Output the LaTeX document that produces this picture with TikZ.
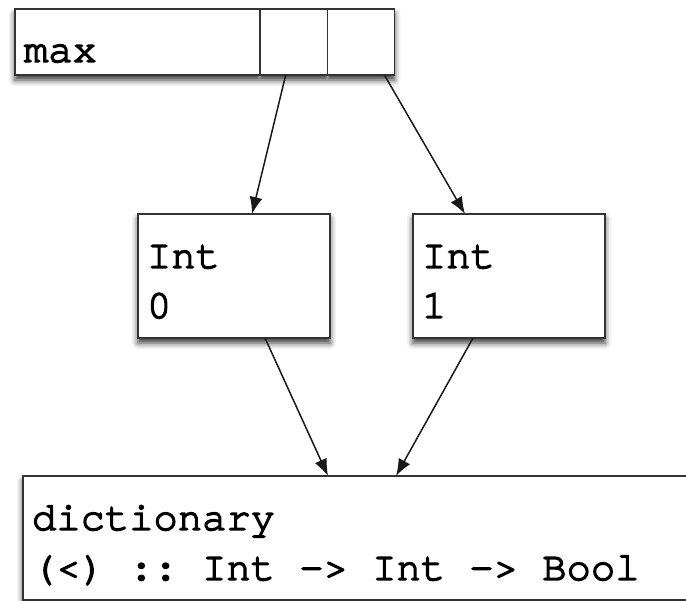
\documentclass[tikz,border=0pt]{standalone}
\usepackage{fontspec}
\newfontfamily\codefont[FakeBold=3.5]{TeX Gyre Cursor}
\protected\def\codesize{\fontsize{40.5}{50}\selectfont}
\protected\def\codespace{\spaceskip=24.3pt\relax\xspaceskip=24.3pt\relax}
\usepackage{tikz}
\usetikzlibrary{arrows.meta, positioning, shapes.multipart, shadows.blur}

\begin{document}
\begin{tikzpicture}[
    x=1pt, y=-1pt,
    box/.style={rectangle, draw=black!80, fill=white, line width=1.7pt,
                outer sep=0pt, inner xsep=9pt, inner ysep=0pt,
                font=\codefont\codesize,
                execute at begin node=\codespace,
                blur shadow={shadow xshift=0pt, shadow yshift=-5pt,
                             shadow blur radius=6pt, shadow opacity=80}},
    record/.style={box, rectangle split, rectangle split horizontal,
                   rectangle split parts=3},
    arrow/.style={-{Latex[length=17pt, width=13pt]}, line width=1.5pt, draw=black!90}
]
    \useasboundingbox (0,0) rectangle (686,601);
    \clip (0,0) rectangle (686,601);

    % function record with its two argument slots
    \node[record, anchor=north west] (maxfun) at (15,9)
        {\rule[-13pt]{0pt}{66pt}\makebox[226pt][l]{max}
         \nodepart{two}\hspace*{48pt}
         \nodepart{three}\hspace*{48pt}};

    % the two boxed values
    \node[box, anchor=north west, text width=174pt, text height=54pt, text depth=70pt]
        (intzero) at (138,214) {Int\\0};
    \node[box, right=83pt of intzero, text width=174pt, text height=54pt, text depth=70pt]
        (intone) {Int\\1};

    % shared dictionary
    \node[box, anchor=north west, text width=700pt, text height=54pt, text depth=70pt]
        (dict) at (23,476) {dictionary\\(<) :: Int -> Int -> Bool};

    \draw[arrow] ([xshift=-8pt]maxfun.two south) -- ([xshift=18pt]intzero.north);
    \draw[arrow] ([xshift=23pt]maxfun.three south) -- ([xshift=-44pt]intone.north);
    \draw[arrow] ([xshift=31pt]intzero.south) -- ([xshift=305pt]dict.north west);
    \draw[arrow] ([xshift=-36pt]intone.south) -- ([xshift=373pt]dict.north west);
\end{tikzpicture}
\end{document}
